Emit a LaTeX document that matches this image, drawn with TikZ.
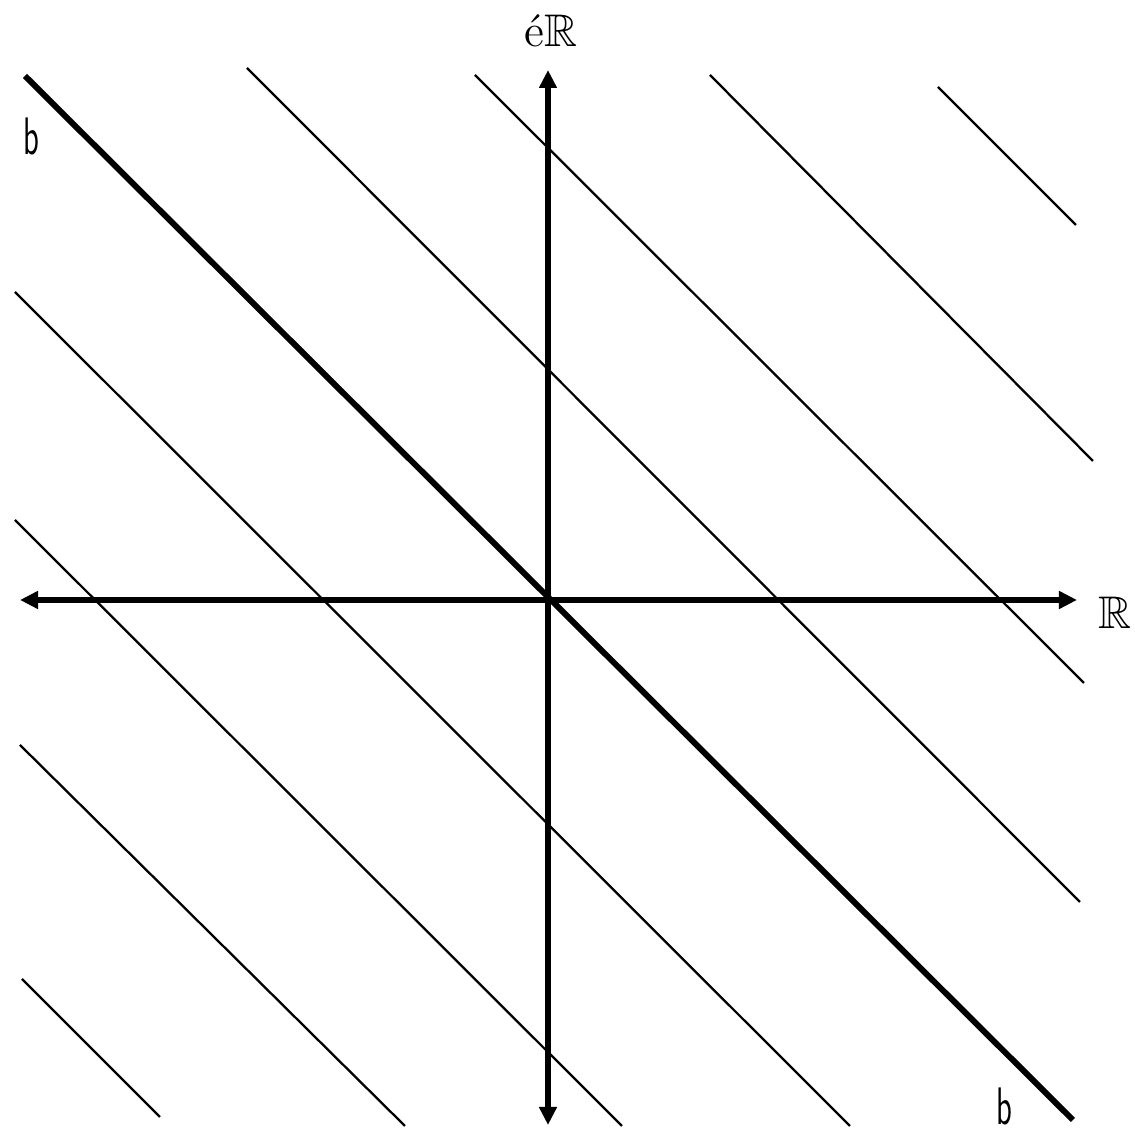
\documentclass[tikz,border=0pt]{standalone}
\usepackage{amsmath,amssymb}
\usepackage{tikz}
\usetikzlibrary{arrows.meta}

\begin{document}
\begin{tikzpicture}[x=0.01cm,y=-0.01cm,
  every node/.style={font=\fontsize{13}{15}\selectfont,inner sep=0pt},
  axisline/.style={line width=1.7pt,{Triangle[length=1.8mm,width=1.7mm]}-{Triangle[length=1.8mm,width=1.7mm]}},
  thinline/.style={line width=0.65pt},
  thickline/.style={line width=1.7pt}]
\useasboundingbox (0,0) rectangle (1135,1131);
% axes
\coordinate (west) at (20,600);
\coordinate (east) at (1077,600);
\coordinate (north) at (548,70);
\coordinate (south) at (548,1125);
\draw[axisline] (west)--(east);
\draw[axisline] (south)--(north);
% parallel lines
\foreach \xa/\ya/\xb/\yb in {938/87/1076/225, 710/75/1093/461, 475/75/1084/683,
  247/68/1080/902, 15/292/850/1126, 15/520/622/1126, 20/745/405/1126, 22/979/160/1117} {
  \draw[thinline] (\xa,\ya)--(\xb,\yb);
}
\draw[thickline] (25,76)--(1073,1120);
% labels
\node (imlabel) at (551,31) {é$\mathbb{R}$};
\node (relabel) at (1115,613) {$\mathbb{R}$};
\node (btop) at (31,136) {\fontsize{15}{17}\selectfont\scalebox{0.6}[1]{\sffamily b}};
\node (bbottom) at (1004,1106) {\fontsize{15}{17}\selectfont\scalebox{0.6}[1]{\sffamily b}};
\end{tikzpicture}
\end{document}
